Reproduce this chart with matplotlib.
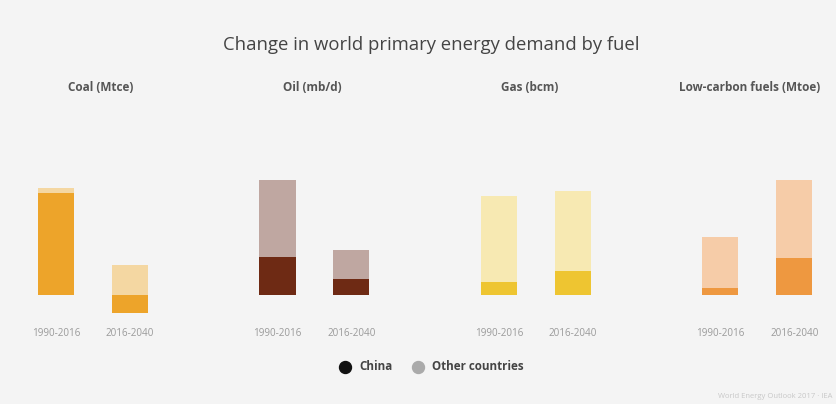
import matplotlib
matplotlib.use('Agg')
import matplotlib.pyplot as plt
from matplotlib.lines import Line2D

plt.rcParams['font.family'] = ['Open Sans', 'DejaVu Sans']

# data (relative bar heights)
fuels = ['Coal (Mtce)', 'Oil (mb/d)', 'Gas (bcm)', 'Low-carbon fuels (Mtoe)']
periods = ['1990-2016', '2016-2040']
china = [[102, -18], [38, 16], [13, 24], [7, 37]]
others = [[5, 30], [77, 29], [86, 80], [51, 78]]

dark_colors = ['#eda42a', '#6e2a14', '#eec531', '#ee9840']
light_colors = ['#f4d7a2', '#bfa7a1', '#f7e9b2', '#f6cca8']
legend_labels = ['China', 'Other countries']
legend_colors = ['#111111', '#aaaaaa']

# panel titles are not exactly centred over the bars
title_offsets = [0.6, 0.47, 0.42, 0.4]

bg = '#f4f4f4'
W, H = 837, 404
fig = plt.figure(figsize=(W / 100, H / 100), dpi=100, facecolor=bg)
ax = fig.add_axes([0, 0.208, 1, 0.4455])
ax.set_facecolor(bg)

for g, fuel in enumerate(fuels):
    for j, per in enumerate(periods):
        x = g * 3 + j
        c = china[g][j]
        o = others[g][j]
        ax.bar(x, c, width=0.49, color=dark_colors[g], linewidth=0)
        # others stack on top of positive China part, start at 0 otherwise
        base = c if c > 0 else 0
        ax.bar(x, o, bottom=base, width=0.49, color=light_colors[g], linewidth=0)
        ax.text(x, -39, per, ha='center', va='center', fontsize=7.1, color='#9a9a9a',
                clip_on=False)
    ax.text(g * 3 + title_offsets[g], 207, fuel, ha='center', va='center', fontsize=8.5,
            fontweight='bold', color='#555555', clip_on=False)

ax.set_xlim(-0.76, 10.58)
ax.set_ylim(-25, 155)
ax.axis('off')

fig.text(0.515, 0.888, 'Change in world primary energy demand by fuel', ha='center',
         va='center', fontsize=13.3, color='#444444')

# legend, placed by hand in pixels
leg_y = 1 - 367 / H
for (px, lab, col) in zip([345, 418], legend_labels, legend_colors):
    fig.add_artist(Line2D([px / W], [leg_y], marker='o', markersize=8.6, color=col,
                          linestyle='', transform=fig.transFigure))
    fig.text((px + 14) / W, leg_y, lab, ha='left', va='center', fontsize=8.4,
             fontweight='bold', color='#444444')

fig.text(0.995, 0.018, 'World Energy Outlook 2017 \u00b7 IEA', ha='right', va='center',
         fontsize=5.5, color='#c8c8c8')

plt.savefig('out.png', dpi=100, facecolor=bg)
